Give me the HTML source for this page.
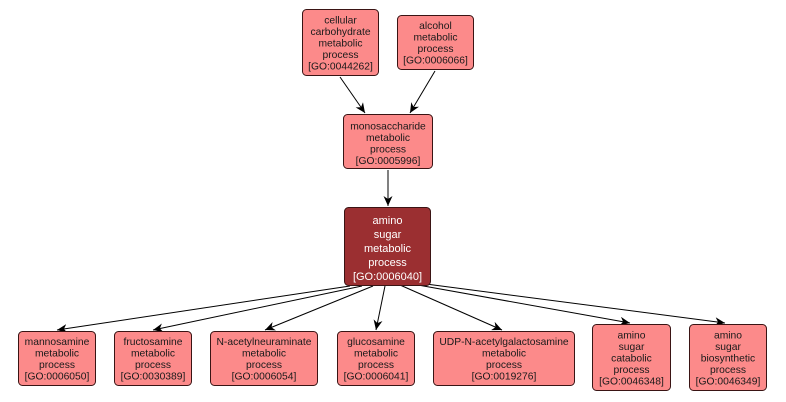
<!DOCTYPE html>
<html><head><meta charset="utf-8"><style>
html,body{margin:0;padding:0;background:#fff;}
svg{display:block;}
text{font-family:"Liberation Sans",Arial,sans-serif;font-size:10.3px;fill:#1a1a1a;text-anchor:middle;}
.w{fill:#fff;font-size:11px;}
.n{fill:#fc8a8a;stroke:#3a1414;stroke-width:1;}
.d{fill:#9b2f31;stroke:#3a1414;stroke-width:1;}
.e{stroke:#000;stroke-width:1;fill:none;}
</style></head><body>
<svg width="786" height="402" viewBox="0 0 786 402" xmlns="http://www.w3.org/2000/svg">
<defs>
<marker id="a" markerUnits="userSpaceOnUse" markerWidth="11" markerHeight="9" refX="10" refY="4.5" orient="auto">
<path d="M0,0 L10,4.5 L0,9 L3,4.5 z" fill="#000"/>
</marker>
</defs>
<!-- edges -->
<line class="e" x1="340" y1="77" x2="365" y2="113" marker-end="url(#a)"/>
<line class="e" x1="435" y1="71" x2="410" y2="113" marker-end="url(#a)"/>
<line class="e" x1="388" y1="170" x2="388" y2="206" marker-end="url(#a)"/>
<line class="e" x1="350" y1="286" x2="57" y2="330" marker-end="url(#a)"/>
<line class="e" x1="362" y1="286" x2="153" y2="330" marker-end="url(#a)"/>
<line class="e" x1="373" y1="286" x2="265" y2="330" marker-end="url(#a)"/>
<line class="e" x1="385" y1="286" x2="376" y2="330" marker-end="url(#a)"/>
<line class="e" x1="400" y1="285" x2="502" y2="330" marker-end="url(#a)"/>
<line class="e" x1="418" y1="285" x2="630" y2="323" marker-end="url(#a)"/>
<line class="e" x1="426" y1="284" x2="725" y2="323" marker-end="url(#a)"/>

<!-- cellular carbohydrate -->
<rect class="n" x="302.5" y="9.5" width="76" height="66" rx="4"/>
<text x="340.5" y="23.5">cellular</text>
<text x="340.5" y="35">carbohydrate</text>
<text x="340.5" y="46.5">metabolic</text>
<text x="340.5" y="58">process</text>
<text x="340.5" y="69.5">[GO:0044262]</text>

<!-- alcohol -->
<rect class="n" x="397.5" y="15.5" width="76" height="54" rx="4"/>
<text x="435.5" y="29">alcohol</text>
<text x="435.5" y="40.5">metabolic</text>
<text x="435.5" y="52">process</text>
<text x="435.5" y="63.5">[GO:0006066]</text>

<!-- monosaccharide -->
<rect class="n" x="343.5" y="114.5" width="89" height="54" rx="4"/>
<text x="388" y="129.5">monosaccharide</text>
<text x="388" y="141">metabolic</text>
<text x="388" y="152.5">process</text>
<text x="388" y="164">[GO:0005996]</text>

<!-- amino sugar metabolic -->
<rect class="d" x="344.5" y="207.5" width="86" height="78" rx="4"/>
<text class="w" x="387.5" y="224">amino</text>
<text class="w" x="387.5" y="238">sugar</text>
<text class="w" x="387.5" y="252">metabolic</text>
<text class="w" x="387.5" y="266">process</text>
<text class="w" x="387.5" y="280">[GO:0006040]</text>

<!-- bottom row -->
<rect class="n" x="18.5" y="331.5" width="77" height="54" rx="4"/>
<text x="57" y="345">mannosamine</text>
<text x="57" y="356.5">metabolic</text>
<text x="57" y="368">process</text>
<text x="57" y="379.5">[GO:0006050]</text>

<rect class="n" x="114.5" y="331.5" width="77" height="54" rx="4"/>
<text x="153" y="345">fructosamine</text>
<text x="153" y="356.5">metabolic</text>
<text x="153" y="368">process</text>
<text x="153" y="379.5">[GO:0030389]</text>

<rect class="n" x="210.5" y="331.5" width="107" height="54" rx="4"/>
<text x="264" y="345">N-acetylneuraminate</text>
<text x="264" y="356.5">metabolic</text>
<text x="264" y="368">process</text>
<text x="264" y="379.5">[GO:0006054]</text>

<rect class="n" x="337.5" y="331.5" width="77" height="54" rx="4"/>
<text x="376" y="345">glucosamine</text>
<text x="376" y="356.5">metabolic</text>
<text x="376" y="368">process</text>
<text x="376" y="379.5">[GO:0006041]</text>

<rect class="n" x="433.5" y="331.5" width="141" height="54" rx="4"/>
<text x="504" y="345">UDP-N-acetylgalactosamine</text>
<text x="504" y="356.5">metabolic</text>
<text x="504" y="368">process</text>
<text x="504" y="379.5">[GO:0019276]</text>

<rect class="n" x="592.5" y="324.5" width="78" height="66" rx="4"/>
<text x="631.5" y="338.5">amino</text>
<text x="631.5" y="350">sugar</text>
<text x="631.5" y="361.5">catabolic</text>
<text x="631.5" y="373">process</text>
<text x="631.5" y="384.5">[GO:0046348]</text>

<rect class="n" x="689.5" y="324.5" width="77" height="66" rx="4"/>
<text x="728" y="338.5">amino</text>
<text x="728" y="350">sugar</text>
<text x="728" y="361.5">biosynthetic</text>
<text x="728" y="373">process</text>
<text x="728" y="384.5">[GO:0046349]</text>
</svg>
</body></html>
